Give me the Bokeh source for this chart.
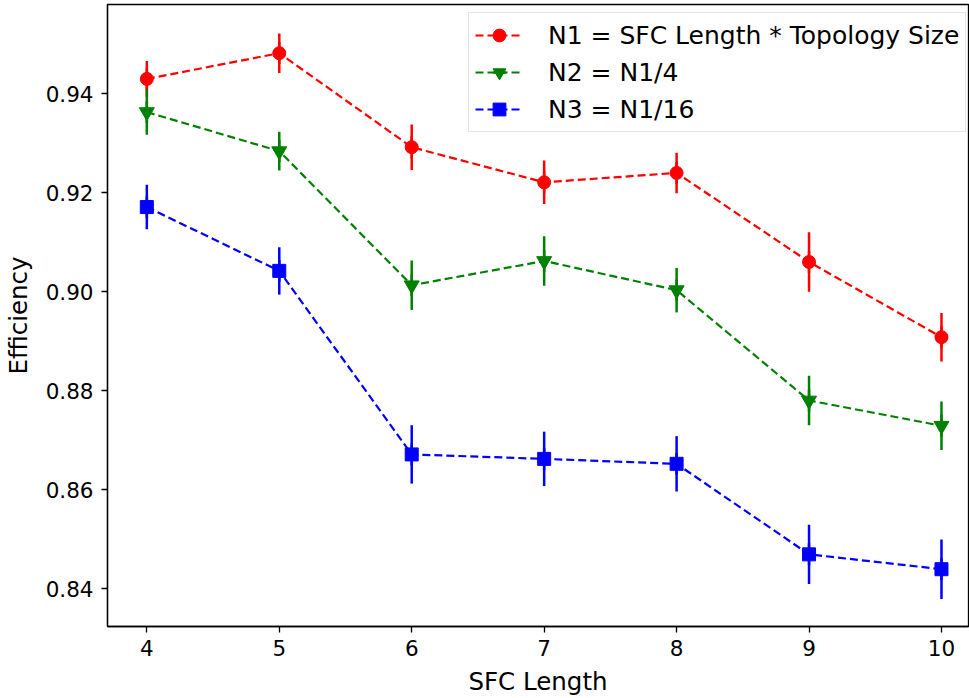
from bokeh.plotting import figure
from bokeh.models import Range1d, FixedTicker, Legend, LegendItem, ColumnDataSource
from bokeh.embed import file_html
from bokeh.resources import INLINE

sfc_length = [4, 5, 6, 7, 8, 9, 10]

n1_mean = [0.943, 0.9482, 0.9292, 0.9221, 0.9240, 0.9060, 0.8908]
n1_err = [0.0036, 0.0040, 0.0046, 0.0044, 0.0041, 0.0060, 0.0049]

n2_mean = [0.9363, 0.9284, 0.9013, 0.9062, 0.9003, 0.8780, 0.8729]
n2_err = [0.0046, 0.0039, 0.0050, 0.0050, 0.0045, 0.0050, 0.0049]

n3_mean = [0.9171, 0.9042, 0.8671, 0.8662, 0.8652, 0.8469, 0.8439]
n3_err = [0.0045, 0.0048, 0.0059, 0.0055, 0.0056, 0.0060, 0.0060]

labels = ["N1 = SFC Length * Topology Size", "N2 = N1/4", "N3 = N1/16"]
colors = ["#ff0000", "#008000", "#0000ff"]
markers = ["circle", "inverted_triangle", "square"]
marker_sizes = [13, 15, 13]
y_ticks = [0.84, 0.86, 0.88, 0.90, 0.92, 0.94]
x_ticks = [4, 5, 6, 7, 8, 9, 10]

FONT = "DejaVu Sans"

p = figure(width=969, height=698, output_backend="svg", toolbar_location=None,
           x_range=Range1d(3.703, 10.204), y_range=Range1d(0.83232, 0.95804),
           min_border_left=107, min_border_right=1, min_border_top=4, min_border_bottom=70)
p.xgrid.visible = False
p.ygrid.visible = False
p.outline_line_color = "black"
p.outline_line_width = 1.3
p.background_fill_color = "white"
p.border_fill_color = "white"

for ax in (p.xaxis[0], p.yaxis[0]):
    ax.axis_line_color = "black"
    ax.axis_line_width = 1.3
    ax.major_tick_line_color = "black"
    ax.major_tick_line_width = 1.3
    ax.major_tick_out = 6
    ax.major_tick_in = 0
    ax.minor_tick_line_color = None
    ax.major_label_text_font = FONT
    ax.major_label_text_font_size = "21.5px"
    ax.major_label_text_color = "#000000"
    ax.axis_label_text_font = FONT
    ax.axis_label_text_font_size = "24.5px"
    ax.axis_label_text_font_style = "normal"
    ax.axis_label_text_color = "#000000"

p.xaxis.ticker = FixedTicker(ticks=x_ticks)
p.yaxis.ticker = FixedTicker(ticks=y_ticks)
p.xaxis.major_label_overrides = {t: str(t) for t in x_ticks}
p.yaxis.major_label_overrides = {t: f"{t:.2f}" for t in y_ticks}
p.xaxis.axis_label = "SFC Length"
p.yaxis.axis_label = "Efficiency"
p.xaxis.major_label_standoff = 7
p.yaxis.major_label_standoff = 8
p.xaxis.axis_label_standoff = 8
p.yaxis.axis_label_standoff = 10

items = []
for means, errs, lab, col, mk, ms in zip([n1_mean, n2_mean, n3_mean], [n1_err, n2_err, n3_err],
                                         labels, colors, markers, marker_sizes):
    src = ColumnDataSource(dict(x=sfc_length, y=means,
                                lo=[m - e for m, e in zip(means, errs)],
                                hi=[m + e for m, e in zip(means, errs)]))
    p.segment(x0="x", y0="lo", x1="x", y1="hi", source=src, line_color=col, line_width=2.5)
    bar = p.scatter(x="x", y="y", source=src, marker="dash", angle=1.5708, size=22,
                    line_color=col, line_width=2.5)
    ln = p.line(x="x", y="y", source=src, line_color=col, line_width=2.2, line_dash="8 4")
    sc = p.scatter(x="x", y="y", source=src, marker=mk, size=ms, fill_color=col, line_color=col)
    items.append(LegendItem(label=lab, renderers=[ln, bar, sc]))

legend = Legend(items=items, location=(361, 494))
legend.label_text_font = FONT
legend.label_text_font_size = "25px"
legend.label_text_color = "#000000"
legend.glyph_width = 48
legend.glyph_height = 32
legend.label_height = 32
legend.label_standoff = 25
legend.spacing = 5
legend.padding = 6
legend.margin = 0
legend.border_line_color = "#cccccc"
legend.border_line_width = 1
legend.background_fill_alpha = 0.8
p.add_layout(legend)

open("out.html", "w").write(file_html(p, INLINE))
